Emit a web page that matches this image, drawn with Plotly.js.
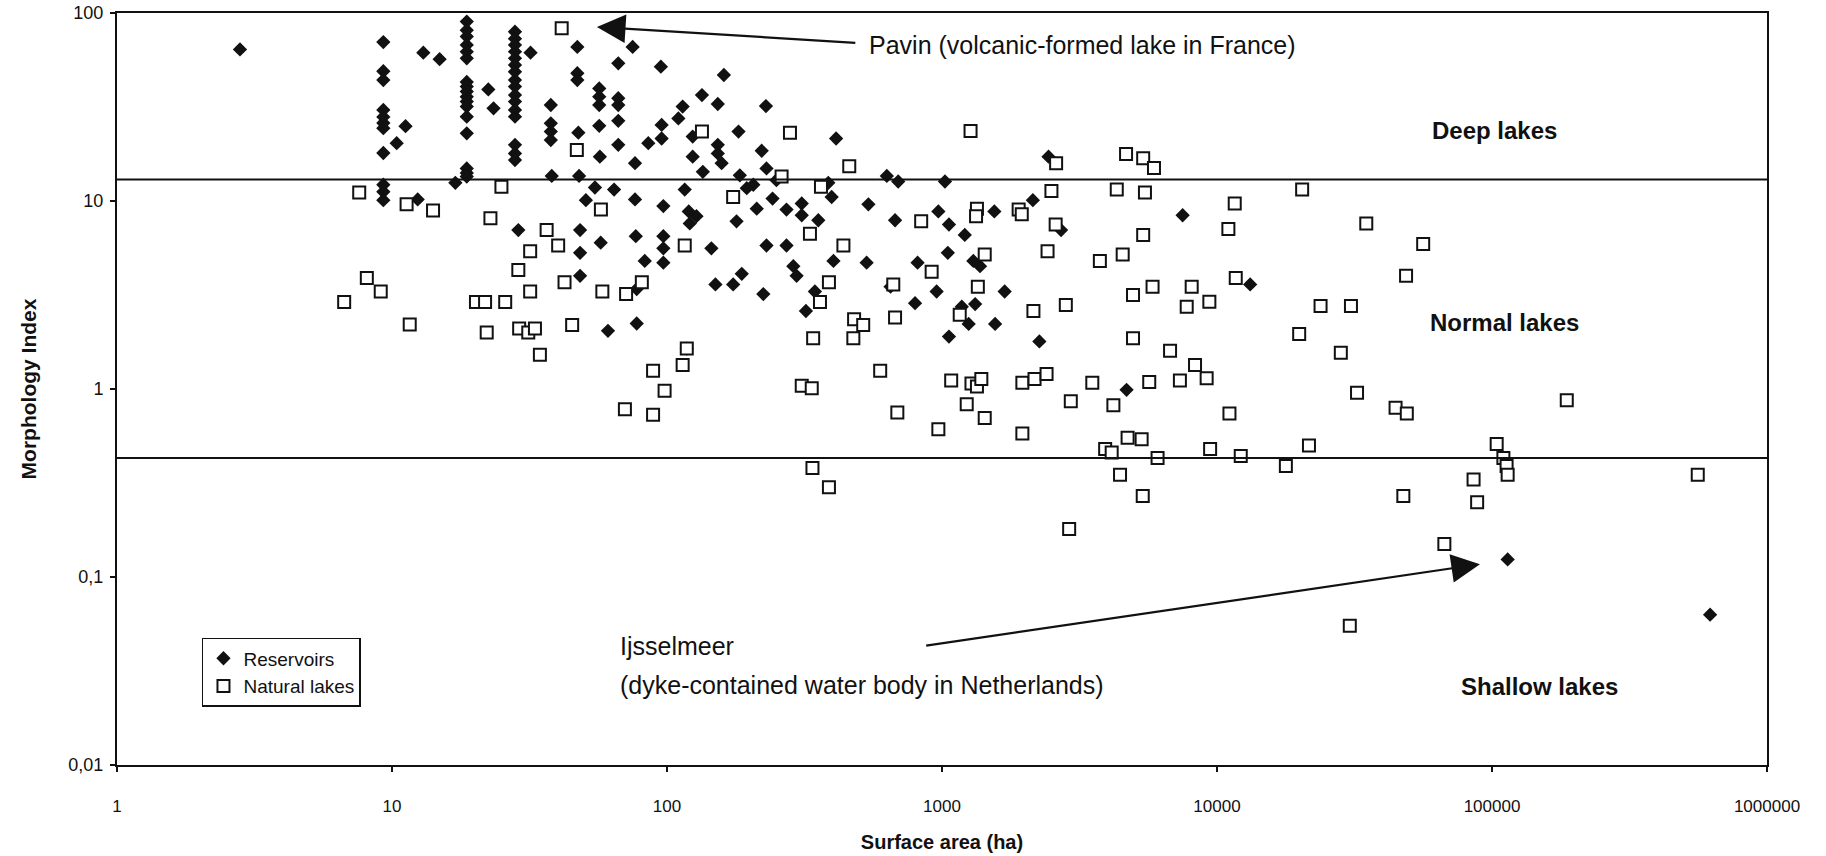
<!DOCTYPE html>
<html>
<head>
<meta charset="utf-8">
<script src="https://cdn.plot.ly/plotly-3.0.1.min.js"></script>
<style>
html,body{margin:0;padding:0;background:#fff;}
#chart{width:1826px;height:856px;}
</style>
</head>
<body>
<div id="chart"></div>
<script>
// Reservoirs: surface area (ha) and morphology index
const reservoirArea = [
  2.8,
  9.3, 9.3, 9.3, 9.3, 9.3, 9.3, 9.3, 9.3, 9.3, 9.3, 9.3,
  10.4, 11.2, 13, 14.9, 12.4,
  18.7, 18.7, 18.7, 18.7, 18.7, 18.7, 18.7, 18.7, 18.7, 18.7, 18.7, 18.7, 18.7, 18.7, 18.7, 18.7, 18.7,
  17, 22.4, 23.4,
  28, 28, 28, 28, 28, 28, 28, 28, 28, 28, 28, 28, 28, 28, 28, 28,
  31.9, 47.2, 47.2, 47.2, 75, 66.5, 95, 161,
  56.7, 56.7, 56.7, 66.5, 66.5, 37.8, 37.8, 37.8, 37.8, 47.6, 56.7, 66.5, 66.5, 57, 76.5,
  114, 110, 134, 153, 229, 95.6, 95.6, 85.5, 124, 124, 182, 153, 153, 158, 135, 221, 230, 412,
  38.1, 47.9, 54.7, 64.2, 50.7, 76.5, 97, 116, 120, 128, 121, 184, 206, 195, 179, 212, 242, 250, 272, 309, 309, 355, 386, 397, 540, 630, 693, 675,
  28.8, 48.3, 48.3, 48.3, 57.4, 77, 97, 97, 97, 83, 145, 230, 272, 403, 532, 815, 187, 174, 150, 288, 296, 345, 224, 77.6, 650,
  1025, 2440, 970, 1060, 1210, 1050, 1550, 2140, 2710, 7500, 1300, 1375, 956, 1690, 13200,
  320, 798, 61, 77.6, 118,
  1180, 1320, 1250, 1060, 1560, 2260, 4690,
  114000, 621000
];
const reservoirIndex = [
  64,
  70, 49, 44, 30.5, 28, 26, 24.4, 18, 12.2, 11.2, 10.1,
  20.3, 25, 61.5, 56.8, 10.2,
  90, 81, 75, 67.6, 62.3, 57.4, 43, 40.6, 38.2, 35.9, 33.8, 31.8, 28.1, 22.9, 14.9, 14.1, 13.5,
  12.5, 39.2, 31.1,
  79.5, 73, 67.6, 62.3, 57.4, 52.9, 48.7, 44, 40.6, 36.6, 33.8, 30.5, 28.1, 19.9, 17.9, 16.5,
  61.5, 66, 47.8, 44, 66, 54, 51.8, 46.8,
  39.7, 35.9, 32.4, 35.2, 32.4, 32.4, 25.9, 23.4, 21.1, 23.1, 25.1, 26.7, 19.9, 17.2, 15.9,
  31.8, 27.5, 36.6, 32.8, 32, 25.4, 21.5, 20.3, 22, 17.2, 23.4, 19.9, 17.9, 15.9, 14.3, 18.5, 14.9, 21.5,
  13.6, 13.6, 11.8, 11.5, 10.1, 10.2, 9.4, 11.5, 8.8, 8.3, 7.6, 13.7, 12.2, 11.7, 7.8, 9.1, 10.3, 12.9, 9.0, 9.7, 8.4, 7.9, 12.5, 10.5, 9.6, 13.6, 12.7, 7.9,
  7.0, 7.0, 5.3, 4.0, 6.0, 6.5, 6.5, 5.6, 4.7, 4.8, 5.6, 5.8, 5.8, 4.8, 4.7, 4.7, 4.1, 3.6, 3.6, 4.5, 4.0, 3.3, 3.2, 3.4, 3.5,
  12.7, 17.2, 8.8, 7.5, 6.6, 5.3, 8.8, 10.1, 7.0, 8.4, 4.8, 4.5, 3.3, 3.3, 3.6,
  2.6, 2.86, 2.04, 2.23, 1.64,
  2.74, 2.83, 2.22, 1.9, 2.22, 1.79, 0.99,
  0.124, 0.063
];

// Natural lakes: surface area (ha) and morphology index
const naturalArea = [
  7.6, 11.3, 14.1, 25, 22.8, 8.1, 9.1, 6.7, 11.6, 20.2, 21.8, 25.8, 22.1,
  41.4, 47, 134, 280, 460, 261, 174, 363, 57.5, 36.5, 40.2, 31.8, 116, 331, 438, 28.8, 42.4, 31.8, 58.2, 71, 81, 388, 665, 840,
  29, 31.3, 33.1, 34.5, 45.2, 114, 118, 89, 98, 70.3, 89, 360, 479, 517, 476, 340, 675, 596, 309, 336, 688, 338, 388,
  1270, 2600, 4670, 5390, 5900, 2500, 4320, 5470, 20400, 11600, 11000, 1340, 1330, 1900, 1950, 2590, 5390, 1430, 917, 2420, 3750, 4540, 11700, 1350, 5830, 8090,
  34900, 56200, 48700,
  4950, 7760, 9380, 2150, 2820, 1160, 4950, 6750, 8320, 9170, 19900, 1080, 1280, 1340, 1390, 1960, 2170, 2400, 3520, 5670, 7330,
  1230, 1430, 970, 1960, 2940, 4200, 11100, 3920, 4140, 4730, 5320, 6080, 9440, 12200, 17800, 21600, 4440, 5370, 2900,
  23800, 30700, 28200, 32300, 44600, 49000, 187000, 104000, 110000, 113000, 114000, 85700, 88300, 47600, 560000, 67100, 30400
];
const naturalIndex = [
  11.1, 9.6, 8.9, 11.9, 8.1, 3.9, 3.3, 2.9, 2.2, 2.9, 2.9, 2.9, 2.0,
  83, 18.7, 23.4, 23.1, 15.3, 13.5, 10.5, 11.9, 9.0, 7.0, 5.8, 5.4, 5.8, 6.7, 5.8, 4.3, 3.7, 3.3, 3.3, 3.2, 3.7, 3.7, 3.6, 7.8,
  2.1, 2.0, 2.1, 1.52, 2.19, 1.34, 1.64, 1.25, 0.98, 0.78, 0.73, 2.9, 2.35, 2.19, 1.86, 1.86, 2.4, 1.25, 1.04, 1.01, 0.75, 0.38, 0.30,
  23.6, 15.9, 17.8, 16.9, 15.0, 11.3, 11.5, 11.1, 11.5, 9.7, 7.1, 9.1, 8.3, 9.0, 8.5, 7.5, 6.6, 5.2, 4.2, 5.4, 4.8, 5.2, 3.9, 3.5, 3.5, 3.5,
  7.6, 5.9, 4.0,
  3.16, 2.74, 2.91, 2.6, 2.8, 2.48, 1.86, 1.6, 1.34, 1.14, 1.96, 1.11, 1.07, 1.03, 1.13, 1.08, 1.13, 1.2, 1.08, 1.09, 1.11,
  0.83, 0.70, 0.61, 0.58, 0.86, 0.82, 0.74, 0.48, 0.46, 0.55, 0.54, 0.43, 0.48, 0.44, 0.39, 0.50, 0.35, 0.27, 0.18,
  2.76, 2.76, 1.56, 0.955, 0.795, 0.74, 0.87, 0.51, 0.43, 0.39, 0.35, 0.33, 0.25, 0.27, 0.35, 0.15, 0.055
];

const xTickValues = [1, 10, 100, 1000, 10000, 100000, 1000000];
const xTickLabels = ["1", "10", "100", "1000", "10000", "100000", "1000000"];
const yTickValues = [0.01, 0.1, 1, 10, 100];
const yTickLabels = ["0,01", "0,1", "1", "10", "100"];

// morphology index boundaries: deep/normal and normal/shallow
const classBoundaries = [13, 0.43];
const classLabels = ["Deep lakes", "Normal lakes", "Shallow lakes"];

// annotated lakes: [area, index] of arrow tip and tail
const pavinArrow = {tip: [55.6, 84.3], tail: [490, 69.3]};
const ijsselArrow = {tip: [90400, 0.117], tail: [865, 0.043]};

const FONT = "Liberation Sans, Arial, Helvetica, sans-serif";
const INK = "#111";

const traces = [
  {
    type: "scatter", mode: "markers", name: "Reservoirs",
    x: reservoirArea, y: reservoirIndex,
    marker: {symbol: "diamond", size: 11, color: INK, line: {width: 0}}
  },
  {
    type: "scatter", mode: "markers", name: "Natural lakes",
    x: naturalArea, y: naturalIndex,
    marker: {symbol: "square", size: 12, color: "#fff", line: {color: INK, width: 2}}
  }
];

const lg = Math.log10;
const axisCommon = {
  type: "log", showline: true, mirror: true, linecolor: INK, linewidth: 2,
  ticks: "outside", ticklen: 5, tickwidth: 1.5, tickcolor: INK,
  showgrid: false, zeroline: false, fixedrange: true,
  tickfont: {family: FONT, size: 17, color: INK}
};

const layout = {
  width: 1826, height: 856,
  margin: {l: 117, r: 59, t: 13, b: 91},
  paper_bgcolor: "#fff", plot_bgcolor: "#fff",
  font: {family: FONT, color: INK},
  showlegend: true,
  legend: {
    x: 0.0515, y: 0.169, xanchor: "left", yanchor: "top",
    bgcolor: "#fff", bordercolor: INK, borderwidth: 1.5,
    font: {family: FONT, size: 19, color: INK},
    itemwidth: 30, tracegroupgap: 0
  },
  xaxis: Object.assign({}, axisCommon, {
    range: [0, 6], tickmode: "array", tickvals: xTickValues, ticktext: xTickLabels,
    ticklabelstandoff: 20,
    title: {text: "<b>Surface area (ha)</b>", font: {family: FONT, size: 20, color: INK}, standoff: 20}
  }),
  yaxis: Object.assign({}, axisCommon, {
    range: [-2, 2], tickmode: "array", tickvals: yTickValues, ticktext: yTickLabels,
    tickfont: {family: FONT, size: 18, color: INK},
    ticklabelstandoff: 3,
    title: {text: "<b>Morphology Index</b>", font: {family: FONT, size: 21, color: INK}, standoff: 26}
  }),
  shapes: classBoundaries.map(v => ({
    type: "line", xref: "paper", x0: 0, x1: 1, yref: "y", y0: v, y1: v,
    line: {color: INK, width: 2}
  })),
  annotations: [
    {xref: "paper", yref: "paper", x: 0.835, y: 0.844, text: "<b>" + classLabels[0] + "</b>",
     showarrow: false, xanchor: "center", yanchor: "middle", font: {family: FONT, size: 24, color: INK}},
    {xref: "paper", yref: "paper", x: 0.841, y: 0.589, text: "<b>" + classLabels[1] + "</b>",
     showarrow: false, xanchor: "center", yanchor: "middle", font: {family: FONT, size: 24, color: INK}},
    {xref: "paper", yref: "paper", x: 0.862, y: 0.104, text: "<b>" + classLabels[2] + "</b>",
     showarrow: false, xanchor: "center", yanchor: "middle", font: {family: FONT, size: 24, color: INK}},
    {xref: "paper", yref: "paper", x: 0.4545, y: 0.957, text: "Pavin (volcanic-formed lake in France)",
     showarrow: false, xanchor: "left", yanchor: "middle", font: {family: FONT, size: 25, color: INK}},
    {xref: "paper", yref: "paper", x: 0.3036, y: 0.158, text: "Ijsselmeer",
     showarrow: false, xanchor: "left", yanchor: "middle", font: {family: FONT, size: 25, color: INK}},
    {xref: "paper", yref: "paper", x: 0.3036, y: 0.106, text: "(dyke-contained water body in Netherlands)",
     showarrow: false, xanchor: "left", yanchor: "middle", font: {family: FONT, size: 25, color: INK}},
    {xref: "x", yref: "y", axref: "x", ayref: "y",
     x: lg(pavinArrow.tip[0]), y: lg(pavinArrow.tip[1]),
     ax: lg(pavinArrow.tail[0]), ay: lg(pavinArrow.tail[1]),
     text: "", showarrow: true, arrowhead: 2, arrowsize: 2.6, arrowwidth: 2.2, arrowcolor: INK, standoff: 0, startstandoff: 0},
    {xref: "x", yref: "y", axref: "x", ayref: "y",
     x: lg(ijsselArrow.tip[0]), y: lg(ijsselArrow.tip[1]),
     ax: lg(ijsselArrow.tail[0]), ay: lg(ijsselArrow.tail[1]),
     text: "", showarrow: true, arrowhead: 2, arrowsize: 2.6, arrowwidth: 2.2, arrowcolor: INK, standoff: 0, startstandoff: 0}
  ]
};

Plotly.newPlot("chart", traces, layout, {displayModeBar: false, staticPlot: true});
</script>
</body>
</html>
